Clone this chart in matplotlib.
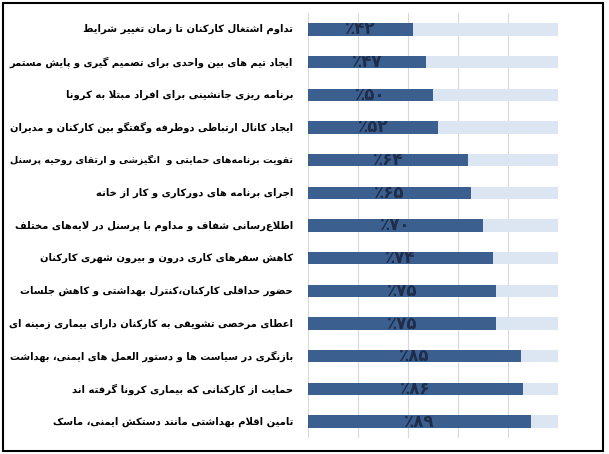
import matplotlib
matplotlib.use("Agg")
import matplotlib.pyplot as plt
from matplotlib.patches import Rectangle

# data
labels = [
    "تداوم اشتغال کارکنان تا زمان تغییر شرایط",
    "ایجاد تیم های بین واحدی برای تصمیم گیری و پایش مستمر",
    "برنامه ریزی جانشینی برای افراد مبتلا به کرونا",
    "ایجاد کانال ارتباطی دوطرفه وگفتگو بین کارکنان و مدیران",
    "تقویت برنامه\u200cهای حمایتی و  انگیزشی و ارتقای روحیه پرسنل",
    "اجرای برنامه های دورکاری و کار از خانه",
    "اطلاع\u200cرسانی شفاف و مداوم با پرسنل در لایه\u200cهای مختلف",
    "کاهش سفرهای کاری درون و بیرون شهری کارکنان",
    "حضور حداقلی کارکنان،کنترل بهداشتی و کاهش جلسات",
    "اعطای مرخصی تشویقی به کارکنان دارای بیماری زمینه ای",
    "بازنگری در سیاست ها و دستور العمل های ایمنی، بهداشت",
    "حمایت از کارکنانی که بیماری کرونا گرفته اند",
    "تامین اقلام بهداشتی مانند دستکش ایمنی، ماسک",
]
values = [42, 47, 50, 52, 64, 65, 70, 74, 75, 75, 85, 86, 89]

# presentation forms: isolated, final, initial, medial
def _f(base, n=4):
    return tuple(chr(base + k) for k in range(n)) if n == 4 else (chr(base), chr(base + 1), None, None)

FORMS = {
    "ء": ("\ufe80", "\ufe80", None, None),
    "آ": _f(0xFE81, 2), "أ": _f(0xFE83, 2), "ؤ": _f(0xFE85, 2), "إ": _f(0xFE87, 2),
    "ئ": _f(0xFE89), "ا": _f(0xFE8D, 2), "ب": _f(0xFE8F), "ة": _f(0xFE93, 2),
    "ت": _f(0xFE95), "ث": _f(0xFE99), "ج": _f(0xFE9D), "ح": _f(0xFEA1),
    "خ": _f(0xFEA5), "د": _f(0xFEA9, 2), "ذ": _f(0xFEAB, 2), "ر": _f(0xFEAD, 2),
    "ز": _f(0xFEAF, 2), "س": _f(0xFEB1), "ش": _f(0xFEB5), "ص": _f(0xFEB9),
    "ض": _f(0xFEBD), "ط": _f(0xFEC1), "ظ": _f(0xFEC5), "ع": _f(0xFEC9),
    "غ": _f(0xFECD), "ف": _f(0xFED1), "ق": _f(0xFED5), "ك": _f(0xFED9),
    "ل": _f(0xFEDD), "م": _f(0xFEE1), "ن": _f(0xFEE5), "ه": _f(0xFEE9),
    "و": _f(0xFEED, 2), "ى": _f(0xFEEF, 2), "ي": _f(0xFEF1),
    "پ": _f(0xFB56), "چ": _f(0xFB7A), "ژ": _f(0xFB8A, 2), "ک": _f(0xFB8E),
    "گ": _f(0xFB92), "ی": _f(0xFBFC),
}
LAM_ALEF = {"آ": "\ufef5", "أ": "\ufef7", "إ": "\ufef9", "ا": "\ufefb"}


def dual(c):
    return c in FORMS and FORMS[c][2] is not None


def shape(text):
    # join letters into presentation forms, then reverse for visual order
    out = []
    i = 0
    while i < len(text):
        c = text[i]
        if c not in FORMS:
            if c != "\u200c":
                out.append(c)
            i += 1
            continue
        prev = text[i - 1] if i > 0 else ""
        joins_prev = dual(prev)
        nxt = text[i + 1] if i + 1 < len(text) else ""
        if c == "ل" and nxt in LAM_ALEF:
            lig = LAM_ALEF[nxt]
            out.append(chr(ord(lig) + 1) if joins_prev else lig)
            i += 2
            continue
        joins_next = dual(c) and nxt in FORMS
        iso, fin, ini, med = FORMS[c]
        if joins_prev and joins_next:
            out.append(med)
        elif joins_prev:
            out.append(fin)
        elif joins_next:
            out.append(ini)
        else:
            out.append(iso)
        i += 1
    return "".join(reversed(out))


def fa_digits(n):
    return str(n).translate(str.maketrans("0123456789", "۰۱۲۳۴۵۶۷۸۹"))


fig = plt.figure(figsize=(6.09, 4.54), dpi=100)
ax = fig.add_axes([308 / 609, 1 - 438 / 454, 250 / 609, 425 / 454])

y = list(range(len(values)))
frac = [v / 100 for v in values]
ax.barh(y, [1] * len(values), height=0.38, color="#dce6f2", zorder=1)
ax.barh(y, frac, height=0.38, color="#3b5f8f", zorder=2)

renderer = fig.canvas.get_renderer()
for yi, f, v in zip(y, frac, values):
    ax.text(f / 2, yi, "٪" + fa_digits(v), ha="center", va="center",
            fontsize=12, fontweight="bold", color="#1f2d4a", family="DejaVu Sans", zorder=3)
    t = ax.text(-0.06, yi, shape(labels[yi]), ha="right", va="center",
                fontsize=7.2, fontweight="bold", color="black", family="DejaVu Sans")
    w = t.get_window_extent(renderer).width
    if w > 284:
        t.set_fontsize(7.2 * 284 / w)

ax.set_xlim(0, 1)
ax.set_ylim(len(values) - 0.5, -0.5)
ax.set_xticks([0, 0.2, 0.4, 0.6, 0.8, 1.0])
ax.grid(axis="x", color="#d9d9d9", linewidth=0.8, zorder=0)
ax.set_axisbelow(True)
ax.tick_params(left=False, bottom=False, labelleft=False, labelbottom=False)
for s in ax.spines.values():
    s.set_visible(False)

fig.patches.append(Rectangle((3 / 609, 3 / 454), 600 / 609, 448 / 454, transform=fig.transFigure,
                             fill=False, edgecolor="black", linewidth=1.5))

fig.savefig("out.png", dpi=100)
